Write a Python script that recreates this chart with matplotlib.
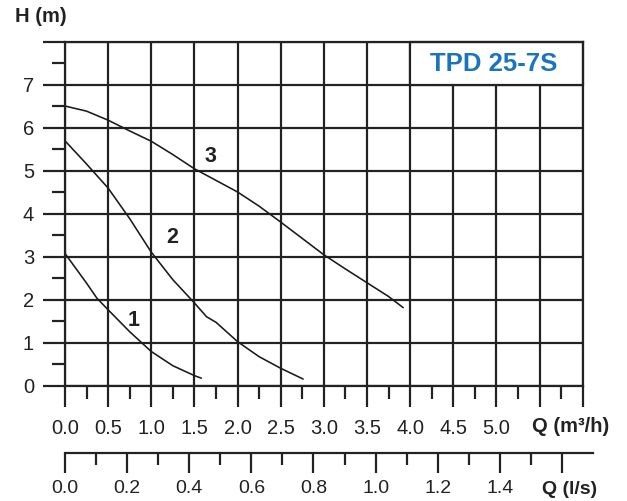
import numpy as np
import matplotlib
matplotlib.use("Agg")
import matplotlib.pyplot as plt
from matplotlib.patches import Rectangle

plt.rcParams['font.family'] = ['Liberation Sans', 'DejaVu Sans']

# ---- data ----
q1 = [0.0, 0.25, 0.37, 0.5, 0.75, 1.0, 1.25, 1.5, 1.58]
h1 = [3.07, 2.38, 2.03, 1.76, 1.25, 0.79, 0.46, 0.23, 0.17]

q2 = [0.0, 0.25, 0.5, 0.75, 1.0, 1.25, 1.5, 1.64, 1.75, 2.0, 2.25, 2.5, 2.76]
h2 = [5.69, 5.15, 4.59, 3.88, 3.1, 2.46, 1.92, 1.6, 1.47, 1.02, 0.67, 0.4, 0.15]

q3 = [0.0, 0.25, 0.5, 0.75, 1.0, 1.25, 1.5, 1.75, 2.0, 2.25, 2.5, 2.75, 3.0, 3.25, 3.5, 3.75, 3.92]
h3 = [6.5, 6.38, 6.17, 5.92, 5.68, 5.37, 5.04, 4.77, 4.5, 4.17, 3.8, 3.42, 3.04, 2.71, 2.39, 2.07, 1.81]

curve_labels = ['1', '2', '3']
label_pos = [(0.79, 1.52), (1.24, 3.44), (1.69, 5.32)]

q_ticks = [0.0, 0.5, 1.0, 1.5, 2.0, 2.5, 3.0, 3.5, 4.0, 4.5, 5.0, 5.5, 6.0]
q_ticklabels = ['0.0', '0.5', '1.0', '1.5', '2.0', '2.5', '3.0', '3.5', '4.0', '4.5', '5.0', '', '']
h_ticks = [0, 1, 2, 3, 4, 5, 6, 7, 8]
h_ticklabels = ['0', '1', '2', '3', '4', '5', '6', '7', '']
ls_ticks = [0.0, 0.2, 0.4, 0.6, 0.8, 1.0, 1.2, 1.4, 1.6]
ls_ticklabels = ['0.0', '0.2', '0.4', '0.6', '0.8', '1.0', '1.2', '1.4', '']

title = 'TPD 25-7S'

# ---- figure ----
W, H = 627, 501
fig = plt.figure(figsize=(W / 100, H / 100), dpi=100)
PT = 0.72  # points per pixel at dpi 100

L, R, T, B = 65, 582.7, 41.5, 385.5
ax = fig.add_axes([L / W, 1 - B / H, (R - L) / W, (B - T) / H])
ax.set_xlim(0, 6)
ax.set_ylim(0, 8)

gc = '#222222'
glw = 2.2 * PT

ax.set_axisbelow(True)
ax.set_xticks(q_ticks)
ax.set_xticklabels(q_ticklabels)
ax.set_xticks(np.arange(0.25, 6.0, 0.5), minor=True)
ax.set_yticks(h_ticks)
ax.set_yticklabels(h_ticklabels)
ax.set_yticks(np.arange(0.5, 8.0, 0.5), minor=True)
ax.grid(True, which='major', color=gc, linewidth=glw)
for s in ax.spines.values():
    s.set_color(gc)
    s.set_linewidth(glw)

ax.tick_params(axis='y', which='major', length=22 * PT, width=glw, color=gc,
               labelsize=14.5, labelcolor='#222222', pad=6.5)
ax.tick_params(axis='y', which='minor', length=13 * PT, width=glw, color=gc)
ax.tick_params(axis='x', which='major', length=21 * PT, width=glw, color=gc,
               labelsize=14.5, labelcolor='#222222', pad=9)
ax.tick_params(axis='x', which='minor', length=12.5 * PT, width=glw, color=gc)

# title box
ax.add_patch(Rectangle((4.0, 7.0), 2.0, 1.0, facecolor='white', edgecolor=gc,
                       linewidth=glw, zorder=1, clip_on=False))
ax.text(4.97, 7.48, title, ha='center', va='center', fontsize=18.5,
        fontweight='bold', color='#1B75BC', zorder=3)

# curves
for q, h in [(q1, h1), (q2, h2), (q3, h3)]:
    ax.plot(q, h, color='#1a1a1a', linewidth=1.6 * PT, zorder=2,
            solid_capstyle='round', solid_joinstyle='round')
for lab, (x, y) in zip(curve_labels, label_pos):
    ax.text(x, y, lab, ha='center', va='center', fontsize=15.5,
            fontweight='bold', color='#222222', zorder=3)

# second axis (l/s)
ax2 = fig.add_axes([L / W, 1 - 453.3 / H, (593 - L) / W, 0.0001])
ax2.set_xlim(0, (593 - L) / ((R - L) / 6 * 3.6))
ax2.patch.set_visible(False)
for k in ['top', 'left', 'right']:
    ax2.spines[k].set_visible(False)
ax2.spines['bottom'].set_color(gc)
ax2.spines['bottom'].set_linewidth(glw)
ax2.set_yticks([])
ax2.set_xticks(ls_ticks)
ax2.set_xticklabels(ls_ticklabels)
ax2.set_xticks(np.arange(0.1, 1.7, 0.2), minor=True)
ax2.tick_params(axis='x', which='major', length=20 * PT, width=glw, color=gc,
                labelsize=14, labelcolor='#222222', pad=5)
ax2.tick_params(axis='x', which='minor', length=12 * PT, width=glw, color=gc)

# axis titles
fig.text(41 / W, 1 - 17 / H, 'H (m)', ha='center', va='center', fontsize=14.5,
         fontweight='bold', color='#222222')
fig.text(571 / W, 1 - 426 / H, 'Q (m³/h)', ha='center', va='center', fontsize=14.5,
         fontweight='bold', color='#222222')
fig.text(570 / W, 1 - 489 / H, 'Q (l/s)', ha='center', va='center', fontsize=14,
         fontweight='bold', color='#222222')

fig.savefig('out.png', dpi=100)
